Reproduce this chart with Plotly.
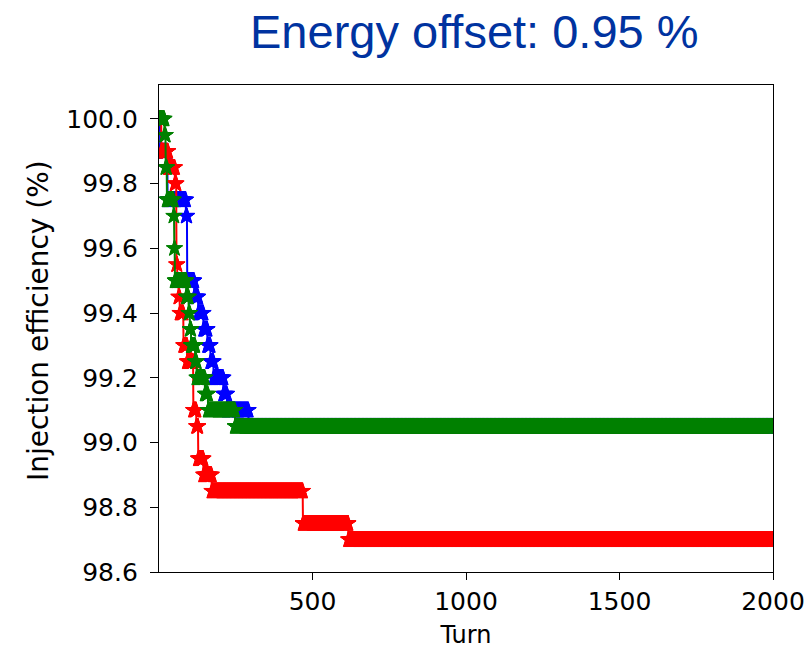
import numpy as np
import plotly.graph_objects as go

# ---- data (step changes of injection efficiency) ----
n_turns = 2000

blue_starts = [1, 4, 28, 88, 92, 115, 128, 145, 158, 168, 178, 210, 222, 292]
blue_levels = [100.0, 99.9, 99.75, 99.7, 99.5, 99.45, 99.4, 99.35, 99.3, 99.25, 99.2, 99.15, 99.1, 99.05]

red_starts = [1, 8, 30, 52, 57, 60, 64, 68, 80, 92, 112, 122, 128, 145, 172, 469, 617]
red_levels = [100.0, 99.9, 99.85, 99.8, 99.55, 99.5, 99.45, 99.4, 99.3, 99.25, 99.1, 99.05, 98.95, 98.9, 98.85, 98.75, 98.7]

green_starts = [1, 18, 22, 26, 48, 50, 52, 89, 97, 101, 105, 118, 123, 150, 160, 248]
green_levels = [100.0, 99.95, 99.85, 99.75, 99.7, 99.6, 99.5, 99.45, 99.4, 99.35, 99.3, 99.25, 99.2, 99.15, 99.1, 99.05]

x_ticks = [500, 1000, 1500, 2000]
y_ticks = [98.6, 98.8, 99.0, 99.2, 99.4, 99.6, 99.8, 100.0]

title_text = "Energy offset: 0.95 %"
x_label = "Turn"
y_label = "Injection efficiency (%)"

turns = np.arange(1, n_turns + 1)


def held(starts, levels):
    idx = np.searchsorted(np.array(starts), turns, side="right") - 1
    return np.array(levels)[idx]


series = [
    ("blue", "#0000ff", blue_starts, blue_levels),
    ("red", "#ff0000", red_starts, red_levels),
    ("green", "#008000", green_starts, green_levels),
]

fig = go.Figure()
for name, color, s, l in series:
    fig.add_trace(go.Scatter(
        x=turns, y=held(s, l), mode="lines+markers", name=name,
        line=dict(color=color, width=2),
        marker=dict(symbol="star", size=12, color=color, line=dict(width=1, color=color)),
        showlegend=False, cliponaxis=True, hoverinfo="skip",
    ))

tick_font = dict(family="DejaVu Sans", size=25, color="#000000")
fig.update_layout(
    width=806, height=649,
    margin=dict(l=159, r=33, t=85, b=77, autoexpand=False),
    paper_bgcolor="white", plot_bgcolor="white",
    font=dict(family="DejaVu Sans", size=25, color="#000000"),
    xaxis=dict(
        range=[0, 2000], tickvals=x_ticks, ticktext=[str(v) for v in x_ticks],
        ticks="outside", ticklen=7, tickwidth=1.3, tickcolor="black",
        showline=True, linecolor="black", linewidth=1.3, mirror=True,
        showgrid=False, zeroline=False, tickfont=tick_font, automargin=False,
        ticklabelstandoff=0,
        title=dict(text=x_label, font=dict(family="DejaVu Sans", size=24, color="#000000"), standoff=12),
    ),
    yaxis=dict(
        range=[98.6, 100.105], tickvals=y_ticks, ticktext=[f"{v:.1f}" for v in y_ticks],
        ticks="outside", ticklen=8, tickwidth=1.3, tickcolor="black",
        showline=True, linecolor="black", linewidth=1.3, mirror=True,
        showgrid=False, zeroline=False, tickfont=tick_font, automargin=False,
        ticklabelstandoff=7,
    ),
    annotations=[
        dict(
            text=title_text, xref="paper", yref="paper",
            x=(474.5 - 159) / 614, y=1 + (85 - 31) / 487,
            xanchor="center", yanchor="middle", showarrow=False,
            font=dict(family="Liberation Sans", size=47, color="#0033a0"),
        ),
        dict(
            text=y_label, xref="paper", yref="paper", textangle=-90,
            x=(38 - 159) / 614, y=(572 - 321) / 487,
            xanchor="center", yanchor="middle", showarrow=False,
            font=dict(family="DejaVu Sans", size=28, color="#000000"),
        ),
    ],
)

fig.write_html(
    "out.html",
    config={"displayModeBar": False},
    post_script="document.body.style.margin='0';",
)
